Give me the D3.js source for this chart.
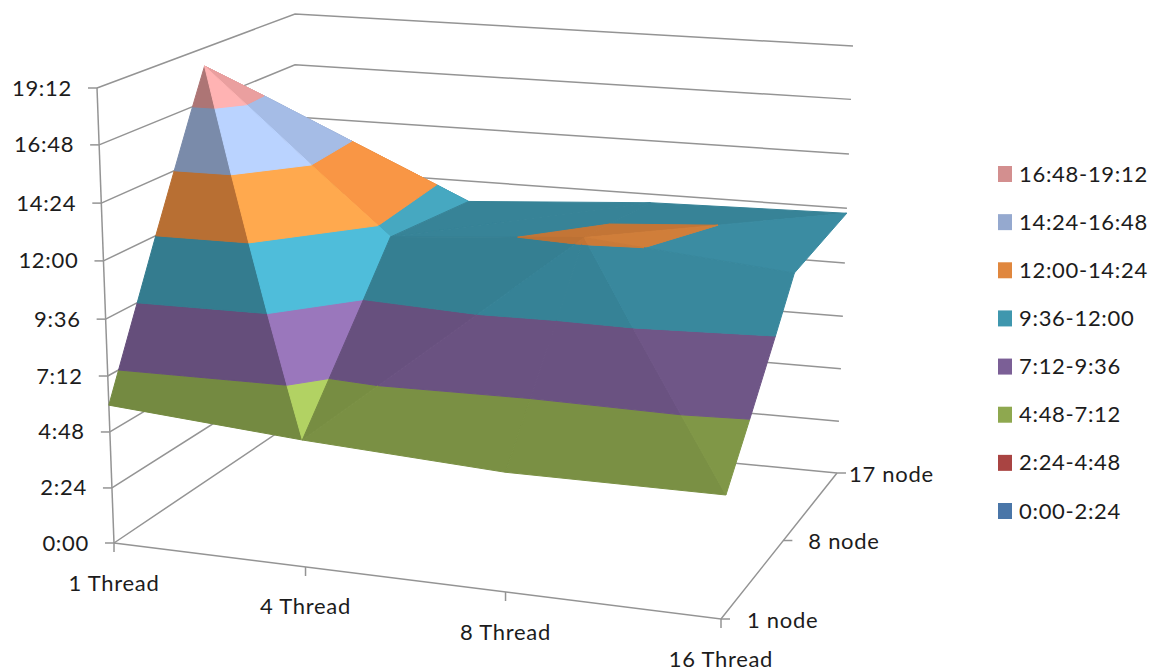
<!DOCTYPE html>
<html>
<head>
<meta charset="utf-8">
<script src="https://cdnjs.cloudflare.com/ajax/libs/d3/7.8.5/d3.min.js"></script>
<style>
  html, body { margin: 0; background: #fff; }
  text { font-family: Lato, "Open Sans", sans-serif; font-size: 22px; fill: #1c1c1c; letter-spacing: 0.7px; }
</style>
</head>
<body>
<svg id="chart" width="1156" height="670"></svg>
<script>
// Run time in hours, per thread count, for each cluster size.
const threads = ["1 Thread", "4 Thread", "8 Thread", "16 Thread"];
const nodes = ["1 node", "8 node", "17 node"];
const hoursOneNode = [5.95, 5.39, 5.0, 5.09];
const hoursEightNode = [18.39, 11.56, 12.22, 11.47];
const hoursSeventeenNode = [11.0, 11.08, 11.62, 11.78];
const heightTicks = ["0:00", "2:24", "4:48", "7:12", "9:36", "12:00", "14:24", "16:48", "19:12"];
const bandColors = ["#4a76a8", "#a94442", "#8ea84f", "#7b5f96", "#3f97ae", "#e0873e", "#95a9cf", "#d38f8f"];

const hoursByNode = [hoursOneNode, hoursEightNode, hoursSeventeenNode];
const toHours = s => { const [h, m] = s.split(":").map(Number); return h + m / 60; };
const tickHours = heightTicks.map(toHours);
const bands = d3.pairs(tickHours).map(([lo, hi], i) => ({
  lo, hi, color: bandColors[i], label: `${heightTicks[i]}-${heightTicks[i + 1]}`
}));

// Depth axes of the box, as fractions of its edges; the height axis is
// slightly compressed towards the floor by the perspective.
const uScale = d3.scaleOrdinal(threads, [0, 0.342, 0.672, 1]);
const vScale = d3.scalePoint(nodes, [0, 1]);
const zScale = d3.scaleLinear(tickHours, [0, 0.121, 0.244, 0.367, 0.492, 0.62, 0.747, 0.875, 1]);

// Screen corners of the plot box: front-left, front-right, back-right, back-left.
const floorCorners = [[114, 543], [721, 619], [837, 473], [295, 421]];
const topCorners = [[97, 88], [740, 140], [853, 46], [295, 14]];

function squareToQuad(q) {
  const [[x0, y0], [x1, y1], [x2, y2], [x3, y3]] = q;
  const dx1 = x1 - x2, dx2 = x3 - x2, sx = x0 - x1 + x2 - x3;
  const dy1 = y1 - y2, dy2 = y3 - y2, sy = y0 - y1 + y2 - y3;
  const det = dx1 * dy2 - dx2 * dy1;
  const g = (sx * dy2 - dx2 * sy) / det, h = (dx1 * sy - sx * dy1) / det;
  const a = x1 - x0 + g * x1, b = x3 - x0 + h * x3;
  const d = y1 - y0 + g * y1, e = y3 - y0 + h * y3;
  return (u, v) => {
    const w = 1 + g * u + h * v;
    return [(x0 + a * u + b * v) / w, (y0 + d * u + e * v) / w];
  };
}
const floorAt = squareToQuad(floorCorners);
const topAt = squareToQuad(topCorners);

function project(u, v, hours) {
  const t = zScale(hours), f = floorAt(u, v), c = topAt(u, v);
  return [f[0] + (c[0] - f[0]) * t, f[1] + (c[1] - f[1]) * t];
}

// Mesh vertices and the triangles each surface cell is split into,
// listed back to front, each with its lighting factor.
const vertex = (i, j) => ({ u: uScale(threads[i]), v: vScale(nodes[j]), h: hoursByNode[j][i] });
const faces = [
  { pts: [[0, 1], [1, 2], [0, 2]], shade: 0.9 },
  { pts: [[0, 1], [1, 1], [1, 2]], shade: 1.11 },
  { pts: [[1, 1], [2, 2], [1, 2]], shade: 0.87 },
  { pts: [[1, 1], [2, 1], [2, 2]], shade: 0.87 },
  { pts: [[2, 1], [3, 2], [2, 2]], shade: 0.87 },
  { pts: [[2, 1], [3, 1], [3, 2]], shade: 0.93 },
  { pts: [[0, 0], [1, 0], [0, 1]], shade: 0.82 },
  { pts: [[1, 0], [1, 1], [0, 1]], shade: 1.25 },
  { pts: [[1, 0], [2, 1], [1, 1]], shade: 0.84 },
  { pts: [[1, 0], [2, 0], [2, 1]], shade: 0.86 },
  { pts: [[2, 0], [3, 0], [2, 1]], shade: 0.86 },
  { pts: [[3, 0], [3, 1], [2, 1]], shade: 0.9 }
];

// Keep the part of a polygon on one side of a height level.
function clipLevel(poly, level, keepAbove) {
  const out = [];
  const inside = p => keepAbove ? p.h >= level : p.h <= level;
  poly.forEach((p, i) => {
    const q = poly[(i + 1) % poly.length];
    if (inside(p)) out.push(p);
    if (inside(p) !== inside(q)) {
      const t = (level - p.h) / (q.h - p.h);
      out.push({ u: p.u + (q.u - p.u) * t, v: p.v + (q.v - p.v) * t, h: level });
    }
  });
  return out;
}

function shadeColor(color, k) {
  const c = d3.rgb(color);
  return d3.rgb(Math.min(255, c.r * k), Math.min(255, c.g * k), Math.min(255, c.b * k)).formatHex();
}

const svg = d3.select("#chart");
const axisColor = "#949494";
const line = d3.line();
const gridLayer = svg.append("g").attr("fill", "none").attr("stroke", axisColor).attr("stroke-width", 1.5);

// Gridlines on the two walls.
gridLayer.selectAll("path.grid").data(tickHours).join("path").attr("class", "grid")
  .attr("d", h => line([project(0, 0, h), project(0, 1, h), project(1, 1, h)]));

// Box edges on the floor and the height axis.
gridLayer.append("path").attr("d", line([floorAt(0, 0), floorAt(1, 0), floorAt(1, 1)]));
gridLayer.append("path").attr("d", line([project(0, 0, 0), project(0, 0, d3.max(tickHours))]));

// Height axis ticks and labels.
const heightGroup = svg.append("g");
heightGroup.selectAll("line").data(tickHours).join("line")
  .attr("stroke", axisColor).attr("stroke-width", 1.5)
  .attr("x1", h => project(0, 0, h)[0]).attr("y1", h => project(0, 0, h)[1])
  .attr("x2", h => project(0, 0, h)[0] - 9).attr("y2", h => project(0, 0, h)[1]);
heightGroup.selectAll("text").data(heightTicks).join("text")
  .attr("text-anchor", "end").attr("dominant-baseline", "central")
  .attr("x", (d, i) => project(0, 0, tickHours[i])[0] - 25)
  .attr("y", (d, i) => project(0, 0, tickHours[i])[1] - 1)
  .text(d => d);

// Thread axis.
const threadGroup = svg.append("g");
threadGroup.selectAll("line").data(threads).join("line")
  .attr("stroke", axisColor).attr("stroke-width", 1.5)
  .attr("x1", d => floorAt(uScale(d), 0)[0]).attr("y1", d => floorAt(uScale(d), 0)[1])
  .attr("x2", d => floorAt(uScale(d), 0)[0]).attr("y2", d => floorAt(uScale(d), 0)[1] + 9);
threadGroup.selectAll("text").data(threads).join("text")
  .attr("text-anchor", "middle").attr("dominant-baseline", "central")
  .attr("x", d => floorAt(uScale(d), 0)[0])
  .attr("y", d => floorAt(uScale(d), 0)[1] + 39)
  .text(d => d);

// Node axis.
const nodeLabelGap = [26, 25, 12];
const nodeGroup = svg.append("g");
nodeGroup.selectAll("line").data(nodes).join("line")
  .attr("stroke", axisColor).attr("stroke-width", 1.5)
  .attr("x1", d => floorAt(1, vScale(d))[0]).attr("y1", d => floorAt(1, vScale(d))[1])
  .attr("x2", d => floorAt(1, vScale(d))[0] + 9).attr("y2", d => floorAt(1, vScale(d))[1]);
nodeGroup.selectAll("text").data(nodes).join("text")
  .attr("dominant-baseline", "central")
  .attr("x", (d, i) => floorAt(1, vScale(d))[0] + nodeLabelGap[i])
  .attr("y", d => floorAt(1, vScale(d))[1])
  .text(d => d);

// Surface: every triangle is cut into the height bands it crosses.
const surface = svg.append("g");
faces.forEach(face => {
  const tri = face.pts.map(([i, j]) => vertex(i, j));
  bands.forEach(band => {
    const poly = clipLevel(clipLevel(tri, band.lo, true), band.hi, false);
    if (poly.length < 3) return;
    const fill = shadeColor(band.color, face.shade);
    surface.append("path")
      .attr("d", line(poly.map(p => project(p.u, p.v, p.h))) + "Z")
      .attr("fill", fill).attr("stroke", fill).attr("stroke-width", 1)
      .attr("stroke-linejoin", "round");
  });
});

// Legend, highest band first.
const legendBands = bands.slice().reverse();
const legendY = d3.scalePoint(d3.range(legendBands.length), [174, 511]);
const legend = svg.append("g");
legend.selectAll("rect").data(legendBands).join("rect")
  .attr("x", 998).attr("y", (d, i) => legendY(i) - 8)
  .attr("width", 14).attr("height", 16).attr("fill", d => d.color);
legend.selectAll("text").data(legendBands).join("text")
  .attr("x", 1019).attr("y", (d, i) => legendY(i) - 1)
  .attr("dominant-baseline", "central")
  .text(d => d.label);
</script>
</body>
</html>
